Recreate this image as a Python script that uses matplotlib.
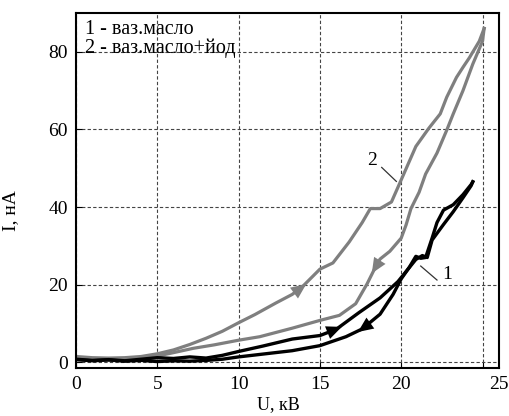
import matplotlib
matplotlib.use('Agg')
import matplotlib.pyplot as plt
from matplotlib.transforms import ScaledTranslation

plt.rcParams['font.family'] = ['Liberation Serif', 'DejaVu Serif']

# curve 2 (vaseline oil + iodine), rising and falling branches
u2_up = [0, 1, 2, 3, 4, 5, 6, 7, 8, 9, 10, 11, 12.3, 13.3, 14, 15, 15.8, 16.8,
         17.6, 18.1, 18.7, 19.4, 20, 20.9, 21.7, 22.4, 22.8, 23.4, 23.8, 24.2, 24.8, 25.1]
i2_up = [1.5, 1.2, 1.1, 1.2, 1.5, 2.2, 3.2, 4.6, 6.2, 8.0, 10.2, 12.3, 15.3, 17.5,
         19.8, 24, 25.6, 31, 36, 39.6, 39.6, 41.3, 47, 55.6, 60.3, 64, 68.3, 73.4, 76, 78.5, 82.7, 86]
u2_down = [25.1, 25.0, 24.4, 23.8, 23.2, 22.8, 22.2, 21.5, 21.1, 20.6, 20.3, 20.0, 19.3,
           18.7, 18.4, 17.9, 17.2, 16.2, 15, 13.3, 11.3, 10, 8.5, 7.2, 6, 5.2, 4, 3, 2, 1, 0]
i2_down = [86, 82.7, 76.8, 70, 64, 59.8, 53.9, 48.5, 43.8, 39.6, 35.4, 32, 28.6, 26.6,
           24.4, 20.2, 15.1, 12.1, 10.8, 8.8, 6.6, 5.7, 4.5, 3.6, 2.5, 1.8, 1.2, 0.9, 0.8, 0.8, 0.9]

# curve 1 (vaseline oil)
u1_up = [0, 1, 2, 3, 4, 5, 6, 7, 8, 9, 10, 11.5, 13.3, 15, 16, 17.4, 18.7, 19.8, 20.9,
         21.3, 21.6, 21.9, 22.6, 23.2, 23.8, 24.3, 24.4]
i1_up = [0.8, 0.5, 0.7, 0.4, 0.8, 1.2, 1.0, 1.4, 1.1, 1.8, 2.8, 4.2, 6.0, 6.9, 8.5, 12.8,
         16.6, 20.8, 26.5, 27.5, 27.0, 31.5, 35.5, 38.8, 42.4, 45.5, 46.5]
u1_down = [24.4, 24.3, 23.8, 23.2, 22.6, 22.2, 21.9, 21.5, 21.2, 20.9, 20.5, 20, 19.5, 18.7,
           17.6, 16.6, 15, 13.3, 10, 9, 8, 7, 6, 5, 4, 3, 2, 1, 0]
i1_down = [46.5, 45.8, 43.2, 40.6, 39.2, 36, 32, 27, 26.8, 27.3, 24.5, 21.5, 17.5, 12.4,
           8.6, 6.6, 4.3, 3.0, 1.4, 0.8, 0.5, 0.3, 0.4, 0.2, 0.5, 0.3, 0.6, 0.4, 0.7]

# direction arrows: (tail, head)
arrows2 = [((13.2, 17.2), (14.3, 20.6)), ((19.0, 28.4), (18.1, 22.3))]
arrows1 = [((14.9, 6.7), (16.5, 9.4)), ((18.6, 11.6), (17.2, 7.4))]

gray = '#7f7f7f'

fig = plt.figure(figsize=(5.1, 4.16), dpi=100)
ax = fig.add_axes([0.149, 0.115, 0.829, 0.854])

ax.plot(u2_up, i2_up, color=gray, lw=2.3, solid_joinstyle='round')
ax.plot(u2_down, i2_down, color=gray, lw=2.3, solid_joinstyle='round')
ax.plot(u1_up, i1_up, color='black', lw=2.4, solid_joinstyle='round')
ax.plot(u1_down, i1_down, color='black', lw=2.4, solid_joinstyle='round')

for t, h in arrows2:
    ax.annotate('', xy=h, xytext=t,
                arrowprops=dict(arrowstyle='-|>,head_length=0.5,head_width=0.22',
                                color=gray, lw=0, mutation_scale=22))
for t, h in arrows1:
    ax.annotate('', xy=h, xytext=t,
                arrowprops=dict(arrowstyle='-|>,head_length=0.5,head_width=0.22',
                                color='black', lw=0, mutation_scale=22))

# curve labels with leader lines
ax.plot([18.8, 19.7], [50.2, 46.6], color='#333333', lw=0.9)
ax.text(18.2, 52, '2', fontsize=14, ha='center', va='center')
ax.plot([21.2, 22.2], [24.8, 21.2], color='#333333', lw=0.9)
ax.text(22.8, 22.5, '1', fontsize=14, ha='center', va='center')

ax.text(0.55, 85.6, '1 - ваз.масло', fontsize=14.5, va='center')
ax.text(0.55, 81.0, '2 - ваз.масло+йод', fontsize=14.5, va='center')

ax.set_xlim(0, 26)
ax.set_ylim(-1.5, 90)
ax.set_xticks([0, 5, 10, 15, 20, 25])
ax.set_yticks([0, 20, 40, 60, 80])
ax.grid(True, color='#444444', lw=0.8, linestyle=(0, (3, 2)))
ax.set_axisbelow(True)
ax.tick_params(direction='in', length=4, labelsize=14, pad=6)
for s in ax.spines.values():
    s.set_linewidth(1.5)

# the "25" label sits at the right edge in the original
lab = ax.get_xticklabels()[-1]
lab.set_transform(lab.get_transform() + ScaledTranslation(0.16, 0, fig.dpi_scale_trans))

ax.set_ylabel('I, нА', fontsize=14)
ax.yaxis.set_label_coords(-0.134, 0.445)
ax.set_xlabel('U, кВ', fontsize=13)
ax.xaxis.set_label_coords(0.478, -0.08)
ax.xaxis.label.set_va('top')

fig.savefig('out.png', dpi=100)
